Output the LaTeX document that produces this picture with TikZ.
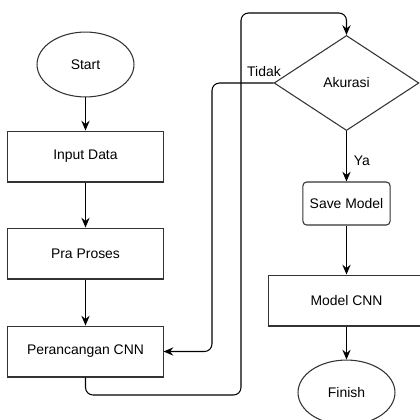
\documentclass[tikz,border=0pt]{standalone}
\usepackage{fontspec}
\setmainfont{Liberation Sans}
\usetikzlibrary{shapes.geometric,arrows.meta}
\begin{document}
\begin{tikzpicture}[x=0.0265cm,y=-0.0265cm,font=\fontsize{10.5}{12}\selectfont]
\tikzset{kotak/.style={draw=black!80,thick,rectangle,minimum width=4.11cm,minimum height=1.35cm,inner sep=0pt},
bulat/.style={draw=black!80,thick,ellipse,minimum width=2.57cm,minimum height=1.72cm,inner sep=0pt},
putus/.style={draw=black!80,thick,diamond,minimum width=3.84cm,minimum height=2.52cm,inner sep=0pt},
simpan/.style={draw=black!80,thick,rectangle,rounded corners=1mm,minimum width=2.31cm,minimum height=1.14cm,inner sep=0pt},
panah/.style={-{Stealth[length=2.6mm,width=2.2mm,inset=0.9mm]},thick,rounded corners=2mm}}
\useasboundingbox(0,0)rectangle(420,419);
\path(85.5,64.5)node[bulat](S){Start}
(85.5,156.5)node[kotak](ID){Input Data}
(85.5,253.5)node[kotak](PP){Pra Proses}
(85.5,351.5)node[kotak](PC){Perancangan CNN};
\path(346.5,83)node[putus](AK){Akurasi}
(346.5,203.5)node[simpan](SM){Save Model}
(346.5,300.5)node[kotak](MC){Model CNN}
(346.5,392.5)node[bulat](F){Finish};
\foreach \x/\y in {S/ID,ID/PP,PP/PC,AK/SM,SM/MC,MC/F}
\draw[panah](\x)--(\y);
\draw[panah](PC.south)|-(241,395)|-(346.5,13)--(AK.north);
\draw[panah](AK.west)-|(212,351.5)--(PC.east);
%%Label cabang
\path(AK.west)node[above left,xshift=9pt,yshift=1pt]{Tidak};
\path(AK.south)++(0,30)node[right,xshift=2pt]{Ya};
\end{tikzpicture}
\end{document}
